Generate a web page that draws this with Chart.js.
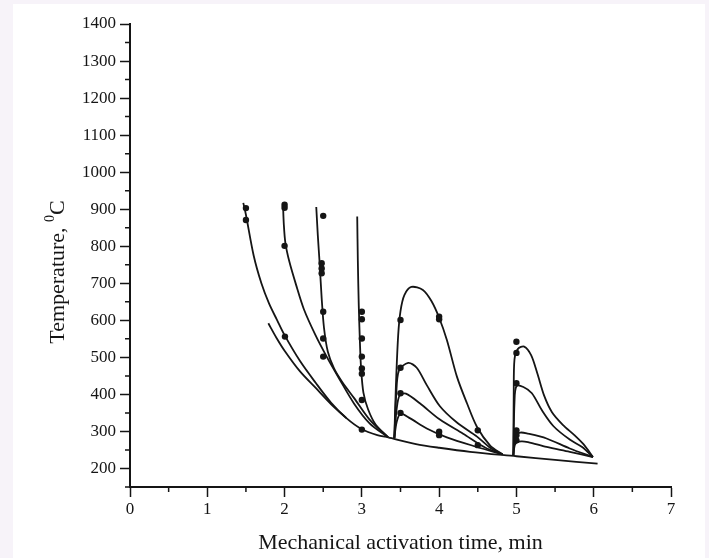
<!DOCTYPE html>
<html>
<head>
<meta charset="utf-8">
<script src="https://cdn.jsdelivr.net/npm/chart.js@4.4.1/dist/chart.umd.min.js"></script>
<style>
  html, body { margin: 0; padding: 0; }
  body { width: 709px; height: 558px; background: #f7f3f9; position: relative; overflow: hidden; }
  #frame { position: absolute; left: 13px; top: 4px; width: 692px; height: 554px; background: #fff; }
  canvas { display: block; }
</style>
</head>
<body>
<div id="frame"><canvas id="chart" width="692" height="554"></canvas></div>
<script>
// Axis ticks
const X_TICKS = [0, 1, 2, 3, 4, 5, 6, 7];
const X_MINOR = [0.5, 1.5, 2.5, 3.5, 4.5, 5.5, 6.5];
const Y_TICKS = [200, 300, 400, 500, 600, 700, 800, 900, 1000, 1100, 1200, 1300, 1400];
const Y_MINOR = [150, 250, 350, 450, 550, 650, 750, 850, 950, 1050, 1150, 1250, 1350];

// Cooling curves, [time, temperature]
const curveA = [[1.466, 917], [1.5, 885], [1.6, 775], [1.7, 700], [1.8, 645], [1.9, 602], [2.0, 560], [2.2, 490], [2.4, 432], [2.6, 378], [2.8, 336], [3.0, 306], [3.2, 290], [3.34, 284]];
const curveE = [[1.79, 592], [1.9, 551], [2.0, 518], [2.2, 462], [2.4, 418], [2.6, 374], [2.8, 336]];
const curveB = [[1.98, 912], [1.99, 860], [2.01, 810], [2.06, 760], [2.15, 695], [2.25, 630], [2.4, 560], [2.55, 500], [2.7, 445], [2.9, 375], [3.1, 322], [3.34, 284]];
const curveC = [[2.41, 906], [2.43, 830], [2.455, 750], [2.48, 660], [2.51, 580], [2.56, 515], [2.64, 470], [2.75, 432], [2.9, 390], [3.1, 332], [3.34, 284]];
const curveD = [[2.94, 880], [2.948, 760], [2.96, 640], [2.975, 540], [2.99, 470], [3.02, 405], [3.08, 360], [3.18, 318], [3.34, 284]];
const baseline = [[3.34, 284], [3.7, 266], [4.0, 256], [4.4, 245], [5.0, 233], [5.5, 223], [6.05, 213]];

// Second heating pulse (~3.4 min)
const peak1 = [[3.42, 282], [3.44, 420], [3.47, 560], [3.5, 625], [3.55, 668], [3.64, 690], [3.79, 682], [3.9, 652], [4.0, 607], [4.1, 547], [4.23, 448], [4.36, 376], [4.49, 312], [4.66, 262], [4.82, 238]];
const peak2 = [[3.42, 282], [3.445, 400], [3.48, 465], [3.6, 485], [3.71, 472], [3.84, 425], [4.01, 368], [4.23, 324], [4.49, 286], [4.66, 256], [4.82, 238]];
const peak3 = [[3.42, 282], [3.45, 360], [3.49, 398], [3.57, 402], [3.75, 376], [4.01, 332], [4.31, 294], [4.6, 256], [4.82, 238]];
const peak4 = [[3.42, 282], [3.45, 325], [3.5, 348], [3.62, 336], [3.84, 308], [4.1, 284], [4.49, 258], [4.82, 238]];

// Third heating pulse (~5 min)
const peak5 = [[4.96, 235], [4.965, 400], [4.975, 495], [5.02, 523], [5.1, 529], [5.19, 506], [5.27, 457], [5.36, 396], [5.46, 352], [5.6, 318], [5.75, 290], [5.87, 265], [5.99, 231]];
const peak6 = [[4.96, 235], [4.975, 380], [5.0, 422], [5.09, 420], [5.2, 403], [5.33, 357], [5.48, 314], [5.69, 278], [5.85, 258], [5.99, 231]];
const peak7 = [[4.96, 235], [4.985, 288], [5.05, 297], [5.15, 294], [5.39, 281], [5.69, 254], [5.99, 231]];
const peak8 = [[4.96, 235], [4.985, 266], [5.06, 273], [5.15, 271], [5.39, 258], [5.69, 245], [5.99, 231]];

// Measured points
const dotX = [1.5, 1.5, 2.0, 2.0, 2.0, 2.005, 2.5, 2.48, 2.48, 2.48, 2.5, 2.5, 2.5, 3.0, 3.0, 3.0, 3.0, 3.0, 3.0, 3.0, 3.0, 3.5, 3.5, 3.5, 3.5, 4.0, 4.0, 4.0, 4.0, 4.5, 4.5, 5.0, 5.0, 5.0, 5.0, 5.0, 5.0];
const dotY = [903, 871, 912, 904, 801, 556, 882, 754, 740, 727, 623, 551, 502, 623, 603, 551, 502, 470, 456, 385, 305, 601, 472, 403, 350, 610, 603, 299, 290, 303, 263, 542, 512, 430, 303, 290, 276];

const INK = "#151515";
const SERIF = "'Liberation Serif', 'Times New Roman', serif";

const curves = [curveA, curveE, curveB, curveC, curveD, baseline, peak1, peak2, peak3, peak4, peak5, peak6, peak7, peak8];

const lineSets = curves.map((pts) => ({
  data: pts.map(([x, y]) => ({ x, y })),
  showLine: true,
  borderColor: INK,
  borderWidth: 1.8,
  pointRadius: 0,
  tension: 0.3,
  fill: false,
}));

const dotSet = {
  data: dotX.map((x, i) => ({ x, y: dotY[i] })),
  showLine: false,
  pointRadius: 3.2,
  pointBackgroundColor: INK,
  pointBorderWidth: 0,
};

// short ticks at the half steps
const minorTicks = {
  id: "minorTicks",
  afterDraw(chart) {
    const { ctx, scales: { x, y } } = chart;
    ctx.save();
    ctx.strokeStyle = INK;
    ctx.lineWidth = 1.5;
    ctx.beginPath();
    X_MINOR.forEach((v) => {
      const px = x.getPixelForValue(v);
      ctx.moveTo(px, x.top);
      ctx.lineTo(px, x.top + 5);
    });
    Y_MINOR.forEach((v) => {
      const py = y.getPixelForValue(v);
      ctx.moveTo(y.right, py);
      ctx.lineTo(y.right - 5, py);
    });
    ctx.stroke();
    ctx.restore();
  },
};

// y title with a raised degree zero
const yTitle = {
  id: "yTitle",
  afterDraw(chart) {
    const { ctx } = chart;
    const main = "Temperature, ";
    const big = "22px " + SERIF;
    const small = "14px " + SERIF;
    ctx.save();
    ctx.fillStyle = INK;
    ctx.textBaseline = "middle";
    ctx.textAlign = "left";
    ctx.font = big;
    const wMain = ctx.measureText(main).width;
    const wC = ctx.measureText("C").width;
    ctx.font = small;
    const wSup = ctx.measureText("0").width;
    const total = wMain + wSup + wC;
    ctx.translate(45, 268);
    ctx.rotate(-Math.PI / 2);
    let pos = -total / 2;
    ctx.font = big;
    ctx.fillText(main, pos, 0);
    pos += wMain;
    ctx.font = small;
    ctx.fillText("0", pos, -8);
    pos += wSup;
    ctx.font = big;
    ctx.fillText("C", pos, 0);
    ctx.restore();
  },
};

new Chart(document.getElementById("chart"), {
  type: "scatter",
  data: { datasets: [...lineSets, dotSet] },
  options: {
    responsive: false,
    animation: false,
    devicePixelRatio: 1,
    layout: { padding: { top: 20, right: 34, left: 0, bottom: 0 } },
    plugins: {
      legend: { display: false },
      tooltip: { enabled: false },
    },
    scales: {
      x: {
        type: "linear",
        min: 0,
        max: 7,
        afterBuildTicks: (s) => { s.ticks = X_TICKS.map((v) => ({ value: v })); },
        afterFit: (s) => { s.height = 71; },
        grid: { drawOnChartArea: false, tickLength: 10, tickColor: INK, tickWidth: 1.5 },
        border: { color: INK, width: 2 },
        ticks: { color: INK, font: { family: SERIF, size: 17 }, padding: 2, maxRotation: 0, callback: (v) => String(v) },
        title: {
          display: true,
          text: "Mechanical activation time, min",
          color: INK,
          font: { family: SERIF, size: 22 },
          padding: { top: 0, bottom: 2 },
        },
      },
      y: {
        type: "linear",
        min: 150,
        max: 1400,
        afterBuildTicks: (s) => { s.ticks = Y_TICKS.map((v) => ({ value: v })); },
        afterFit: (s) => { s.width = 117; },
        grid: { drawOnChartArea: false, tickLength: 10, tickColor: INK, tickWidth: 1.5 },
        border: { color: INK, width: 2 },
        ticks: { color: INK, font: { family: SERIF, size: 17 }, padding: 4, callback: (v) => String(v) },
      },
    },
  },
  plugins: [minorTicks, yTitle],
});
</script>
</body>
</html>
